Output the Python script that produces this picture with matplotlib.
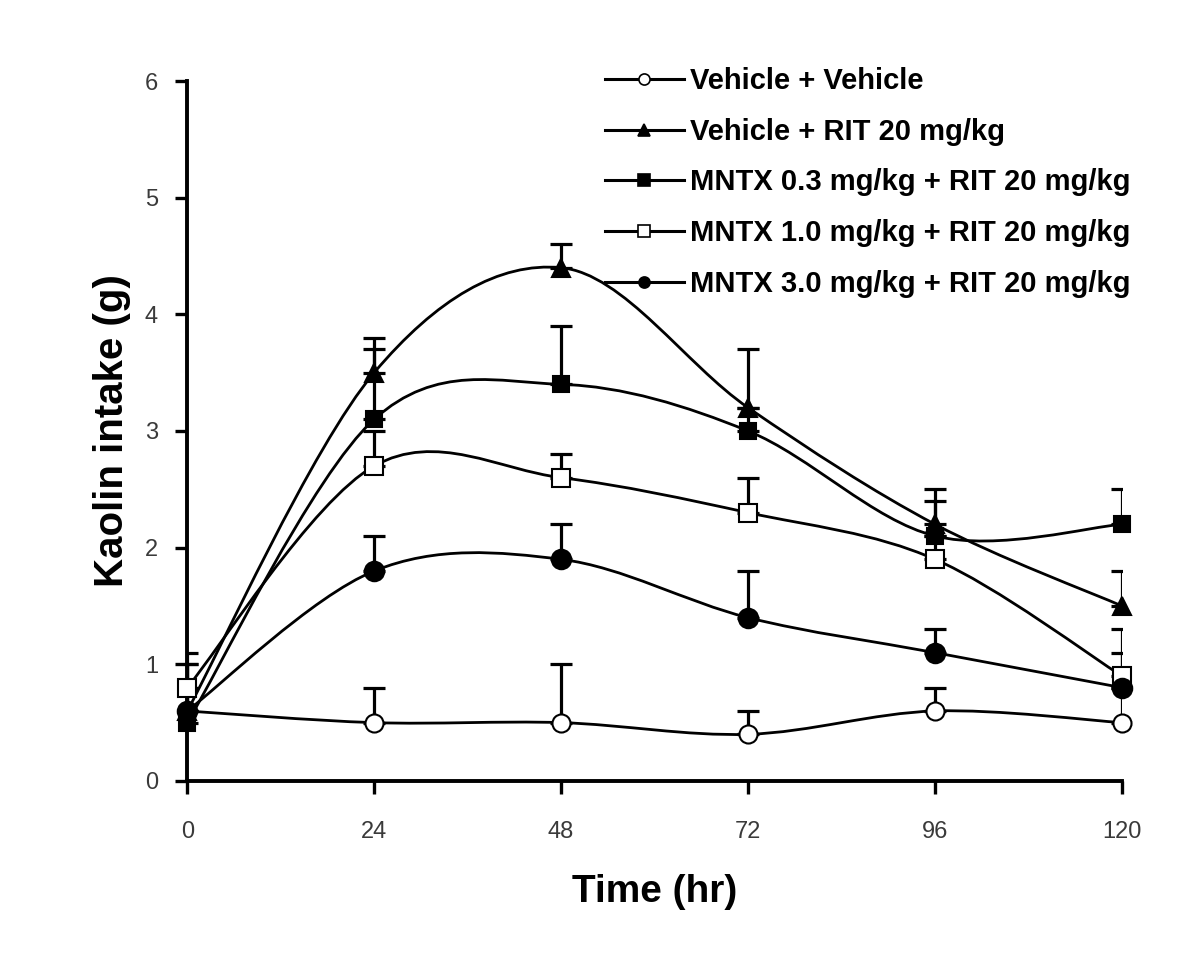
import numpy as np
import matplotlib.pyplot as plt
from matplotlib.path import Path
from matplotlib.patches import PathPatch
from matplotlib.lines import Line2D

# data
hours = [0, 24, 48, 72, 96, 120]

veh_veh = [0.6, 0.5, 0.5, 0.4, 0.6, 0.5]
veh_veh_err = [0.0, 0.3, 0.5, 0.2, 0.2, 0.3]

veh_rit = [0.6, 3.5, 4.4, 3.2, 2.2, 1.5]
veh_rit_err = [0.4, 0.3, 0.2, 0.5, 0.3, 0.3]

mntx03 = [0.5, 3.1, 3.4, 3.0, 2.1, 2.2]
mntx03_err = [0.5, 0.6, 0.5, 0.2, 0.3, 0.3]

mntx10 = [0.8, 2.7, 2.6, 2.3, 1.9, 0.9]
mntx10_err = [0.3, 0.3, 0.2, 0.3, 0.2, 0.4]

mntx30 = [0.6, 1.8, 1.9, 1.4, 1.1, 0.8]
mntx30_err = [0.2, 0.3, 0.3, 0.4, 0.2, 0.3]

labels = ['Vehicle + Vehicle',
          'Vehicle + RIT 20 mg/kg',
          'MNTX 0.3 mg/kg + RIT 20 mg/kg',
          'MNTX 1.0 mg/kg + RIT 20 mg/kg',
          'MNTX 3.0 mg/kg + RIT 20 mg/kg']

plt.rcParams['font.family'] = ['Liberation Sans', 'DejaVu Sans']


def smooth_path(x, y):
    # Catmull-Rom style bezier through the points (like Excel's smoothed line)
    x = np.asarray(x, float)
    y = np.asarray(y, float)
    px = np.concatenate([[x[0]], x, [x[-1]]])
    py = np.concatenate([[y[0]], y, [y[-1]]])
    verts = [(x[0], y[0])]
    codes = [Path.MOVETO]
    for i in range(1, len(px) - 2):
        c1 = (px[i] + (px[i + 1] - px[i - 1]) / 6, py[i] + (py[i + 1] - py[i - 1]) / 6)
        c2 = (px[i + 1] - (px[i + 2] - px[i]) / 6, py[i + 1] - (py[i + 2] - py[i]) / 6)
        verts += [c1, c2, (px[i + 1], py[i + 1])]
        codes += [Path.CURVE4] * 3
    return Path(verts, codes)


fig = plt.figure(figsize=(12, 9.6), dpi=100)
ax = fig.add_axes([0.156, 0.1865, 0.779, 0.7291])

series = [
    (veh_veh, veh_veh_err, 'o', 'white', 13),
    (veh_rit, veh_rit_err, '^', 'black', 13),
    (mntx03, mntx03_err, 's', 'black', 12),
    (mntx10, mntx10_err, 's', 'white', 13),
    (mntx30, mntx30_err, 'o', 'black', 14),
]

handles = []
for (vals, err, mk, fc, ms), lab in zip(series, labels):
    ax.errorbar(hours, vals, yerr=[np.zeros(len(err)), err], fmt='none',
                ecolor='black', elinewidth=2.3, capsize=8, capthick=2.3, zorder=2)
    ax.add_patch(PathPatch(smooth_path(hours, vals), facecolor='none',
                           edgecolor='black', lw=2.0, zorder=3))
    ax.plot(hours, vals, linestyle='none', marker=mk, markersize=ms,
            markerfacecolor=fc, markeredgecolor='black', markeredgewidth=1.5,
            zorder=4, clip_on=False)
    handles.append(Line2D([], [], color='black', lw=2.2, marker=mk, markersize=8,
                          markerfacecolor=fc, markeredgecolor='black',
                          markeredgewidth=1.2))

ax.set_xlim(0, 120)
ax.set_ylim(0, 6)
ax.set_xticks(hours)
ax.set_yticks(range(0, 7))

for side in ['top', 'right']:
    ax.spines[side].set_visible(False)
for side in ['left', 'bottom']:
    ax.spines[side].set_linewidth(2.8)

ax.tick_params(axis='both', direction='out', length=9, width=2.4,
               labelsize=17, colors='black', labelcolor='#3a3a3a')
ax.tick_params(axis='x', pad=20)
ax.tick_params(axis='y', pad=12)

ax.set_xlabel('Time (hr)', fontsize=28, fontweight='bold', labelpad=22)
ax.set_ylabel('Kaolin intake (g)', fontsize=29, fontweight='bold', labelpad=10)

fig.legend(handles, labels, loc='upper left', bbox_to_anchor=(605 / 1200, 1 - 67 / 960),
           frameon=False, prop={'weight': 'bold', 'size': 21},
           handlelength=2.7, handletextpad=0.2, labelspacing=0.78,
           borderpad=0, borderaxespad=0)

fig.savefig('out.png', dpi=100, facecolor='white')
